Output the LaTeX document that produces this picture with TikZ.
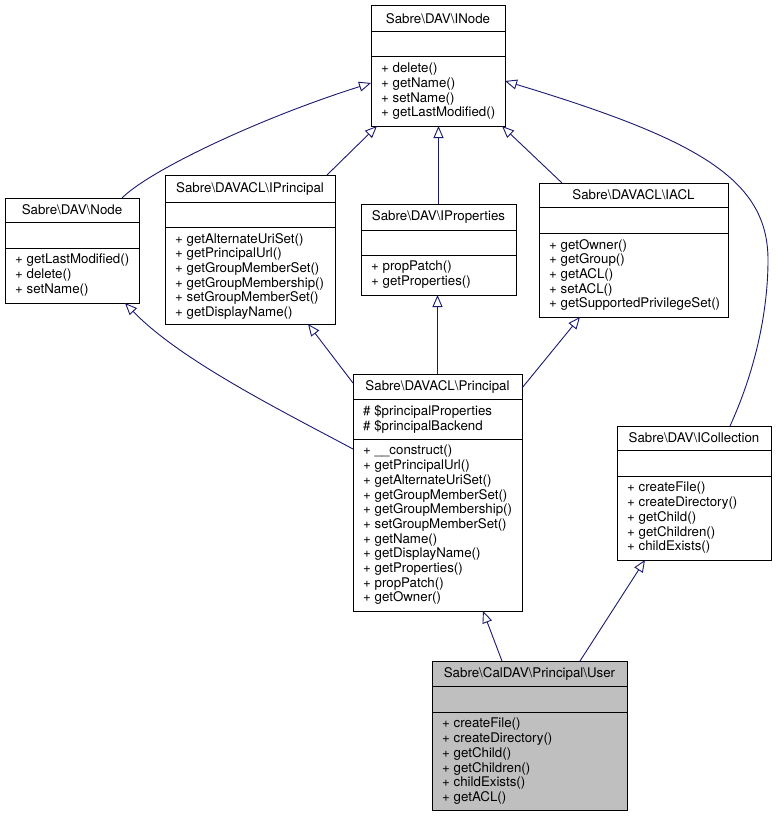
\documentclass[tikz,border=0pt]{standalone}
\usepackage{fontspec}
\setmainfont{TeX Gyre Heros}
\usepackage{xcolor}
\usetikzlibrary{arrows.meta}
\definecolor{edgeblue}{HTML}{191970}
\definecolor{hilite}{HTML}{BFBFBF}
\tikzset{
  classbox/.style={draw=black, line width=1pt, anchor=north west, inner sep=0pt, outer sep=0pt},
  sepline/.style={draw=black, line width=1pt},
  classtitle/.style={inner sep=0pt, font=\fontsize{13.3}{14.7}\selectfont},
  members/.style={anchor=north west, inner sep=0pt, align=left, font=\fontsize{13.3}{14.7}\selectfont},
  inherit/.style={draw=edgeblue, line width=0.9pt, -{Triangle[open, length=12pt, width=10pt]}}
}

\begin{document}
\begin{tikzpicture}[x=1pt, y=-1pt]%
\useasboundingbox (0,0) rectangle (777,816);%
% Sabre\DAV\INode
\node[classbox, minimum width=134pt, minimum height=120pt] (inode) at (371,6) {};%
\draw[sepline] (371,32) -- (505,32);%
\draw[sepline] (371,57) -- (505,57);%
\node[classtitle] (inodetitle) at (438,19) {Sabre\textbackslash DAV\textbackslash INode};%
\node[members] (inodeops) at (381,63) {+ delete()\\+ getName()\\+ setName()\\+ getLastModified()};%
% Sabre\DAV\Node
\node[classbox, minimum width=134pt, minimum height=105pt] (node) at (5,198) {};%
\draw[sepline] (5,222) -- (139,222);%
\draw[sepline] (5,248) -- (139,248);%
\node[classtitle] (nodetitle) at (72,210) {Sabre\textbackslash DAV\textbackslash Node};%
\node[members] (nodeops) at (15,254) {+ getLastModified()\\+ delete()\\+ setName()};%
% Sabre\DAVACL\IPrincipal
\node[classbox, minimum width=170pt, minimum height=149pt] (iprincipal) at (165,175) {};%
\draw[sepline] (165,202) -- (335,202);%
\draw[sepline] (165,227) -- (335,227);%
\node[classtitle] (iprincipaltitle) at (250,188.5) {Sabre\textbackslash DAVACL\textbackslash IPrincipal};%
\node[members] (iprincipalops) at (175,233) {+ getAlternateUriSet()\\+ getPrincipalUrl()\\+ getGroupMemberSet()\\+ getGroupMembership()\\+ setGroupMemberSet()\\+ getDisplayName()};%
% Sabre\DAV\IProperties
\node[classbox, minimum width=155pt, minimum height=91pt] (iproperties) at (361,204) {};%
\draw[sepline] (361,230) -- (516,230);%
\draw[sepline] (361,255) -- (516,255);%
\node[classtitle] (ipropertiestitle) at (438.5,217) {Sabre\textbackslash DAV\textbackslash IProperties};%
\node[members] (ipropertiesops) at (371,261) {+ propPatch()\\+ getProperties()};%
% Sabre\DAVACL\IACL
\node[classbox, minimum width=189pt, minimum height=134pt] (iacl) at (539,183) {};%
\draw[sepline] (539,207) -- (728,207);%
\draw[sepline] (539,233) -- (728,233);%
\node[classtitle] (iacltitle) at (633.5,195) {Sabre\textbackslash DAVACL\textbackslash IACL};%
\node[members] (iaclops) at (549,239) {+ getOwner()\\+ getGroup()\\+ getACL()\\+ setACL()\\+ getSupportedPrivilegeSet()};%
% Sabre\DAVACL\Principal
\node[classbox, minimum width=169pt, minimum height=237pt] (principal) at (353,374) {};%
\draw[sepline] (353,399) -- (522,399);%
\draw[sepline] (353,439) -- (522,439);%
\node[classtitle] (principaltitle) at (437.5,386.5) {Sabre\textbackslash DAVACL\textbackslash Principal};%
\node[members] (principalattrs) at (363,405) {\# \$principalProperties\\\# \$principalBackend};%
\node[members] (principalops) at (363,445) {+ \_\_construct()\\+ getPrincipalUrl()\\+ getAlternateUriSet()\\+ getGroupMemberSet()\\+ getGroupMembership()\\+ setGroupMemberSet()\\+ getName()\\+ getDisplayName()\\+ getProperties()\\+ propPatch()\\+ getOwner()};%
% Sabre\DAV\ICollection
\node[classbox, minimum width=154pt, minimum height=134pt] (icollection) at (617,426) {};%
\draw[sepline] (617,450) -- (771,450);%
\draw[sepline] (617,476) -- (771,476);%
\node[classtitle] (icollectiontitle) at (694,438) {Sabre\textbackslash DAV\textbackslash ICollection};%
\node[members] (icollectionops) at (627,482) {+ createFile()\\+ createDirectory()\\+ getChild()\\+ getChildren()\\+ childExists()};%
% Sabre\CalDAV\Principal\User
\node[classbox, fill=hilite, minimum width=195pt, minimum height=149pt] (user) at (432,661) {};%
\draw[sepline] (432,686) -- (627,686);%
\draw[sepline] (432,712) -- (627,712);%
\node[classtitle] (usertitle) at (529.5,673.5) {Sabre\textbackslash CalDAV\textbackslash Principal\textbackslash User};%
\node[members] (userops) at (442,718) {+ createFile()\\+ createDirectory()\\+ getChild()\\+ getChildren()\\+ childExists()\\+ getACL()};%
% inheritance
\draw[inherit] ([xshift=-17pt]node.north east) .. controls (150,170) and (260,118) .. ([yshift=-77pt]inode.north west);%
\draw[inherit] ([xshift=-8pt]iprincipal.north east) -- ([xshift=6pt]inode.south west);%
\draw[inherit] (iproperties.north) -- (iproperties.north |- inode.south);%
\draw[inherit] ([xshift=23pt]iacl.north west) -- ([xshift=-3pt]inode.south east);%
\draw[inherit] ([xshift=-41pt]icollection.north east) .. controls (760,360) and (768,300) .. (768,260) .. controls (768,180) and (700,140) .. ([yshift=-75pt]inode.north east);%
\draw[inherit] ([yshift=-75pt]principal.north west) .. controls (280,410) and (180,360) .. ([xshift=-14pt]node.south east);%
\draw[inherit] ([yshift=-9pt]principal.north west) -- ([xshift=-27pt]iprincipal.south east);%
\draw[inherit] (principal.north) -- (principal.north |- iproperties.south);%
\draw[inherit] ([yshift=-14pt]principal.north east) -- ([xshift=41pt]iacl.south west);%
\draw[inherit] ([xshift=70pt]user.north west) -- ([xshift=-39pt]principal.south east);%
\draw[inherit] ([xshift=-47pt]user.north east) -- ([xshift=28pt]icollection.south west);%
\end{tikzpicture}
\end{document}
